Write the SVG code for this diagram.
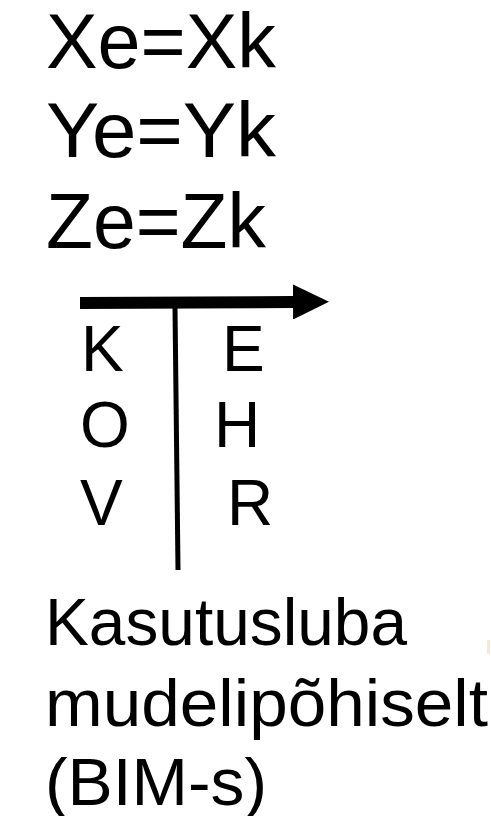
<svg xmlns="http://www.w3.org/2000/svg" width="491" height="816" viewBox="0 0 491 816">
  <style>
    .big { font-family: "Liberation Sans", Arial, sans-serif; font-size: 78px; fill: #000; }
    .mid { font-family: "Liberation Sans", Arial, sans-serif; font-size: 64px; fill: #000; }
    .cap { font-family: "Liberation Sans", Arial, sans-serif; font-size: 66px; fill: #000; }
  </style>
  <defs>
    <marker id="head" viewBox="0 0 36 35" refX="0" refY="17.5" markerUnits="userSpaceOnUse" markerWidth="36" markerHeight="35" orient="auto">
      <path d="M0,0 L36,17.5 L0,35 Z" fill="#000"/>
    </marker>
  </defs>
  <rect width="491" height="816" fill="#fff"/>

  <!-- coordinate equalities -->
  <g id="equations">
    <text class="big" x="46" y="68" textLength="230" lengthAdjust="spacingAndGlyphs">Xe=Xk</text>
    <text class="big" x="46" y="157" textLength="230" lengthAdjust="spacingAndGlyphs">Ye=Yk</text>
    <text class="big" x="46" y="248" textLength="220" lengthAdjust="spacingAndGlyphs">Ze=Zk</text>
  </g>

  <!-- T-chart: arrow on top, divider below -->
  <g id="connectors">
    <line x1="80" y1="303" x2="293" y2="302" stroke="#000" stroke-width="12" marker-end="url(#head)"/>
    <line x1="175" y1="308" x2="178" y2="570" stroke="#000" stroke-width="5"/>
  </g>

  <g id="left-column">
    <text class="mid" x="81" y="371">K</text>
    <text class="mid" x="80" y="447">O</text>
    <text class="mid" x="80" y="525">V</text>
  </g>
  <g id="right-column">
    <text class="mid" x="222" y="371">E</text>
    <text class="mid" x="214" y="447">H</text>
    <text class="mid" x="227" y="525">R</text>
  </g>

  <!-- caption -->
  <g id="caption">
    <text class="cap" x="45" y="645" textLength="362" lengthAdjust="spacingAndGlyphs">Kasutusluba</text>
    <text class="cap" x="45" y="726" textLength="443" lengthAdjust="spacingAndGlyphs">mudelipõhiselt</text>
    <text class="cap" x="45" y="805" textLength="222" lengthAdjust="spacingAndGlyphs">(BIM-s)</text>
  </g>

  <rect x="487" y="640" width="3" height="14" fill="#e8dcc0" opacity="0.6"/>
</svg>
